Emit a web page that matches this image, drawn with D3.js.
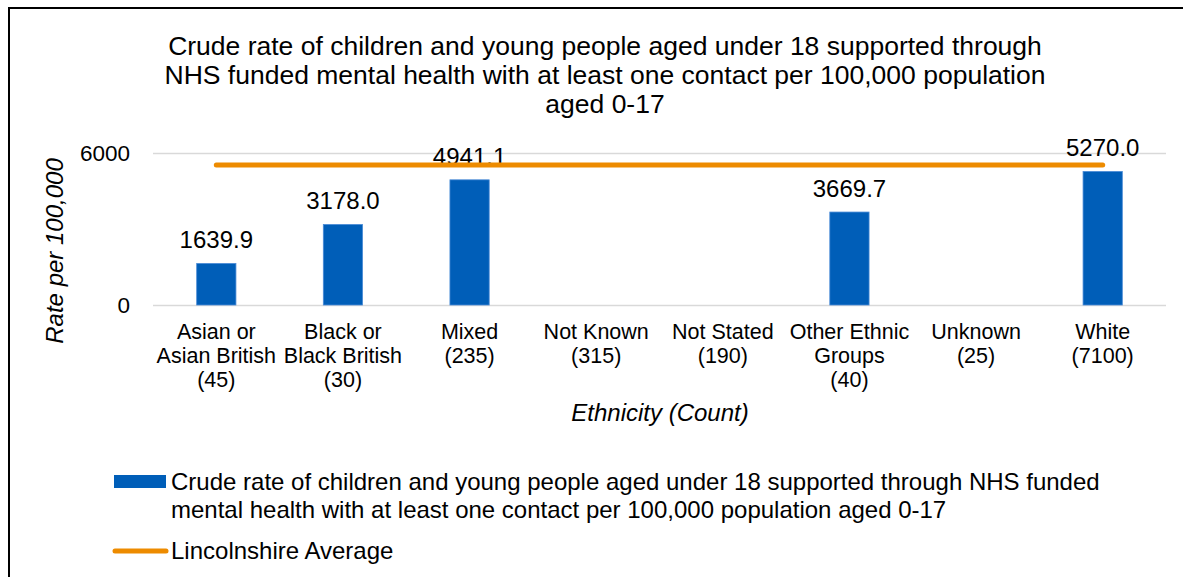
<!DOCTYPE html>
<html>
<head>
<meta charset="utf-8">
<script src="https://cdn.jsdelivr.net/npm/d3@7"></script>
<style>
  html, body { margin: 0; padding: 0; background: #fff; }
  svg { display: block; font-family: "Liberation Sans", Arial, sans-serif; }
</style>
</head>
<body>
<svg id="chart" width="1183" height="577"></svg>
<script>
// Ethnicity groups (label lines) and their counts
const categories = ["Asian or\nAsian British", "Black or\nBlack British", "Mixed", "Not Known",
                    "Not Stated", "Other Ethnic\nGroups", "Unknown", "White"];
const counts = [45, 30, 235, 315, 190, 40, 25, 7100];
// Crude rate per 100,000 population aged 0-17 (null = no rate published)
const rates = [1639.9, 3178.0, 4941.1, null, null, 3669.7, null, 5270.0];
// Lincolnshire average rate, the same for every group
const averageRate = [5526, 5526, 5526, 5526, 5526, 5526, 5526, 5526];
const yTicks = [0, 6000];

const titleLines = [
  "Crude rate of children and young people aged under 18 supported through",
  "NHS funded mental health with at least one contact per 100,000 population",
  "aged 0-17"
];
const legendBarLines = [
  "Crude rate of children and young people aged under 18 supported through NHS funded",
  "mental health with at least one contact per 100,000 population aged 0-17"
];
const legendLineLabel = "Lincolnshire Average";

const svg = d3.select("#chart");
const blue = "#005EB8", orange = "#ED8B00";
const FONT = "Liberation Sans, Arial, sans-serif";

// outer frame
svg.append("path")
  .attr("d", "M9,600 L9,8 L1200,8")
  .attr("fill", "none").attr("stroke", "#000").attr("stroke-width", 2);

const plot = { left: 153, right: 1166, top: 153, bottom: 305 };

const x = d3.scaleBand().domain(d3.range(categories.length))
  .range([plot.left, plot.right]).paddingInner(0.69).paddingOuter(0.345);
const y = d3.scaleLinear().domain([0, 6000]).range([plot.bottom, plot.top]);

// title
svg.append("text")
  .attr("text-anchor", "middle").attr("font-size", 26.5).attr("fill", "#000")
  .selectAll("tspan").data(titleLines).join("tspan")
  .attr("x", 605).attr("y", (d, i) => 55 + i * 28.8).text(d => d);

// y axis with gridlines
const yAxis = svg.append("g")
  .attr("transform", `translate(${plot.left},0)`)
  .call(d3.axisLeft(y).tickValues(yTicks).tickFormat(d3.format("d"))
    .tickSize(-(plot.right - plot.left)).tickPadding(23));
yAxis.select(".domain").remove();
yAxis.selectAll(".tick line").attr("stroke", "#D9D9D9").attr("stroke-width", 1.5);
yAxis.selectAll(".tick text").attr("font-size", 22.5).attr("fill", "#000")
  .attr("font-family", FONT);

// y axis title
svg.append("text")
  .attr("transform", "translate(63,251) rotate(-90)")
  .attr("text-anchor", "middle").attr("font-size", 24).attr("font-style", "italic")
  .text("Rate per 100,000");

// x axis category labels
const xAxis = svg.append("g")
  .attr("transform", `translate(0,${plot.bottom})`)
  .call(d3.axisBottom(d3.scaleBand().domain(d3.range(categories.length)).range([plot.left, plot.right]))
    .tickSize(0).tickFormat(""));
xAxis.select(".domain").remove();
xAxis.selectAll(".tick").each(function (d) {
  const lines = categories[d].split("\n").concat(`(${counts[d]})`);
  const t = d3.select(this).select("text")
    .attr("font-size", 21.5).attr("fill", "#000")
    .attr("font-family", FONT)
    .attr("dy", null).attr("y", 0);
  t.selectAll("tspan").data(lines).join("tspan")
    .attr("x", 0).attr("y", (l, i) => 34 + i * 24).text(l => l);
});

// x axis title
svg.append("text")
  .attr("x", 660).attr("y", 421)
  .attr("text-anchor", "middle").attr("font-size", 24).attr("font-style", "italic")
  .text("Ethnicity (Count)");

// bars
const barData = rates.map((v, i) => ({ i, v })).filter(d => d.v != null);
svg.append("g").selectAll("rect").data(barData).join("rect")
  .attr("x", d => x(d.i)).attr("width", x.bandwidth())
  .attr("y", d => y(d.v)).attr("height", d => y(0) - y(d.v))
  .attr("fill", blue).attr("stroke", "#4A8BD6").attr("stroke-width", 0.8);

// value labels
svg.append("g").selectAll("text").data(barData).join("text")
  .attr("x", d => x(d.i) + x.bandwidth() / 2).attr("y", d => y(d.v) - 15)
  .attr("text-anchor", "middle").attr("font-size", 24).attr("fill", "#000")
  .text(d => d.v.toFixed(1));

// Lincolnshire average line
const line = d3.line().x((d, i) => x(i) + x.bandwidth() / 2).y(d => y(d));
svg.append("path").datum(averageRate)
  .attr("d", line).attr("fill", "none")
  .attr("stroke", orange).attr("stroke-width", 5).attr("stroke-linecap", "round");

// legend
const lg = svg.append("g");
lg.append("rect").attr("x", 114).attr("y", 475).attr("width", 52).attr("height", 13).attr("fill", blue);
lg.append("text").attr("font-size", 24).attr("fill", "#000")
  .selectAll("tspan").data(legendBarLines).join("tspan")
  .attr("x", 171).attr("y", (d, i) => 490 + i * 28).text(d => d);
lg.append("line").attr("x1", 115).attr("x2", 166).attr("y1", 551).attr("y2", 551)
  .attr("stroke", orange).attr("stroke-width", 5).attr("stroke-linecap", "round");
lg.append("text").attr("x", 171).attr("y", 559).attr("font-size", 24).attr("fill", "#000")
  .text(legendLineLabel);
</script>
</body>
</html>
